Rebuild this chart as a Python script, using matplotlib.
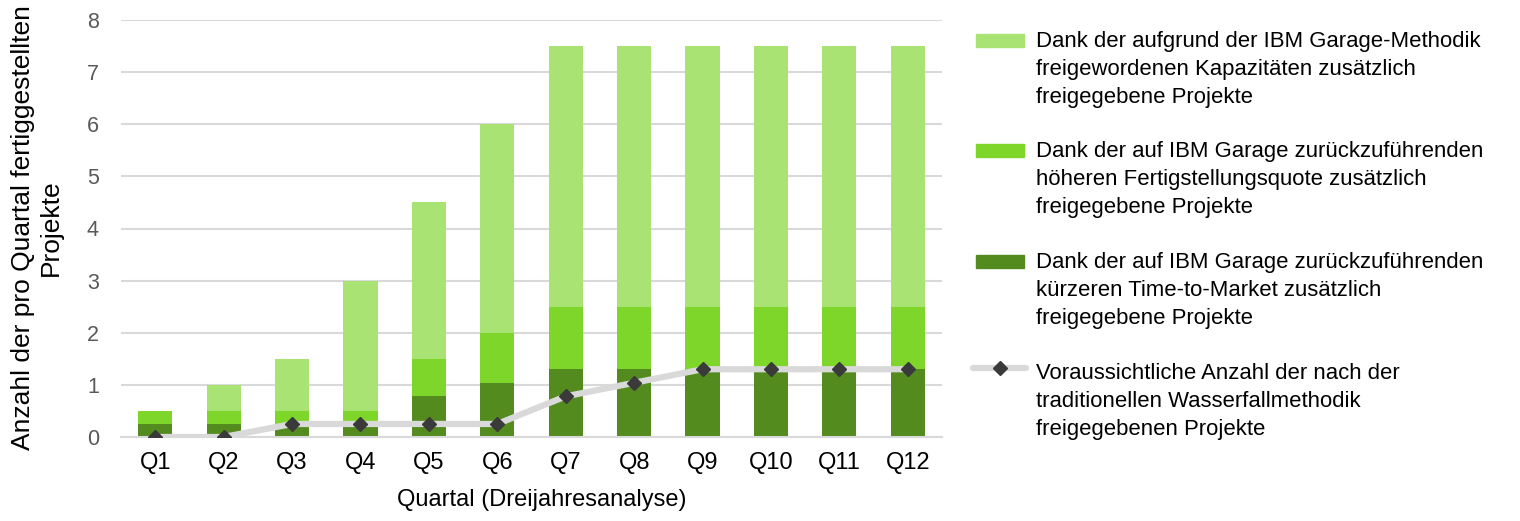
import matplotlib
matplotlib.use("Agg")
import matplotlib.pyplot as plt
from matplotlib.patches import Rectangle
from matplotlib.lines import Line2D
import numpy as np

plt.rcParams['font.family'] = ['Liberation Sans', 'DejaVu Sans']

quarters = ["Q1", "Q2", "Q3", "Q4", "Q5", "Q6", "Q7", "Q8", "Q9", "Q10", "Q11", "Q12"]
time_to_market = [0.25, 0.25, 0.25, 0.25, 0.78, 1.04, 1.3, 1.3, 1.3, 1.3, 1.3, 1.3]
completion_rate = [0.25, 0.25, 0.25, 0.25, 0.72, 0.96, 1.2, 1.2, 1.2, 1.2, 1.2, 1.2]
capacity = [0.0, 0.5, 1.0, 2.5, 3.0, 4.0, 5.0, 5.0, 5.0, 5.0, 5.0, 5.0]
waterfall = [0, 0, 0.25, 0.25, 0.25, 0.25, 0.78, 1.04, 1.3, 1.3, 1.3, 1.3]

labels = [
    ["Dank der aufgrund der IBM Garage-Methodik", "freigewordenen Kapazitäten zusätzlich", "freigegebene Projekte"],
    ["Dank der auf IBM Garage zurückzuführenden", "höheren Fertigstellungsquote zusätzlich", "freigegebene Projekte"],
    ["Dank der auf IBM Garage zurückzuführenden", "kürzeren Time-to-Market zusätzlich", "freigegebene Projekte"],
    ["Voraussichtliche Anzahl der nach der", "traditionellen Wasserfallmethodik", "freigegebenen Projekte"],
]

c_light = "#A9E373"
c_mid = "#7ED62B"
c_dark = "#538B1F"
c_line = "#D9D9D9"
c_mark = "#3A3A3A"

W, H = 1520, 521
fig = plt.figure(figsize=(W / 100, H / 100), dpi=100)
ax = fig.add_axes([121 / W, 1 - 437 / H, (942 - 121) / W, (437 - 20) / H])

x = np.arange(len(quarters))
w = 0.5
ax.bar(x, time_to_market, w, color=c_dark, zorder=2)
ax.bar(x, completion_rate, w, bottom=time_to_market, color=c_mid, zorder=2)
bottom3 = np.array(time_to_market) + np.array(completion_rate)
ax.bar(x, capacity, w, bottom=bottom3, color=c_light, zorder=2)
ax.plot(x, waterfall, color=c_line, lw=4.5, marker="D", markersize=7.5,
        markerfacecolor=c_mark, markeredgecolor=c_mark, zorder=3)

ax.set_xlim(-0.5, 11.5)
ax.set_ylim(0, 8)
ax.set_yticks(range(0, 9))
ax.set_xticks(x)
ax.set_xticklabels(quarters)
ax.grid(axis="y", color=c_line, lw=1.5, zorder=0)
for s in ["top", "right", "left"]:
    ax.spines[s].set_visible(False)
ax.spines["bottom"].set_color(c_line)
ax.spines["bottom"].set_linewidth(1.5)
ax.tick_params(axis="x", length=0, labelsize=17, colors="#000000", pad=11)
ax.tick_params(axis="y", length=0, labelsize=15.5, colors="#595959", pad=16)
ax.set_xlabel("Quartal (Dreijahresanalyse)", fontsize=17, color="#000000")
ax.xaxis.set_label_coords(542 / W, 0.02, transform=fig.transFigure)
ax.xaxis.label.set_va("bottom")
ax.set_ylabel("Anzahl der pro Quartal fertiggestellten\nProjekte", fontsize=19, color="#000000")
ax.yaxis.label.set_va("center")
ax.yaxis.set_label_coords(37 / W, 1 - 228 / H, transform=fig.transFigure)

# legend drawn manually to keep handles aligned with the first text line
leg_fs = 15.9
baselines = [47.3, 157.3, 268.3, 379.3]
line_gap = 27.7
colors = [c_light, c_mid, c_dark]
for i, lines in enumerate(labels):
    b = baselines[i]
    for j, t in enumerate(lines):
        fig.text(1036 / W, 1 - (b + j * line_gap) / H, t, fontsize=leg_fs,
                 color="#000000", va="baseline", ha="left")
    if i < 3:
        fig.add_artist(Rectangle((976 / W, 1 - (b - 0.3) / H), 48 / W, 12.7 / H,
                                 transform=fig.transFigure, color=colors[i]))
    else:
        yc = 1 - (b - 11.6) / H
        fig.add_artist(Line2D([973 / W, 1026 / W], [yc, yc], transform=fig.transFigure,
                              color=c_line, lw=4.5, solid_capstyle="round"))
        fig.add_artist(Line2D([1000 / W], [yc], transform=fig.transFigure, marker="D",
                              markersize=7.5, color=c_mark, lw=0))

fig.savefig("out.png", dpi=100)
